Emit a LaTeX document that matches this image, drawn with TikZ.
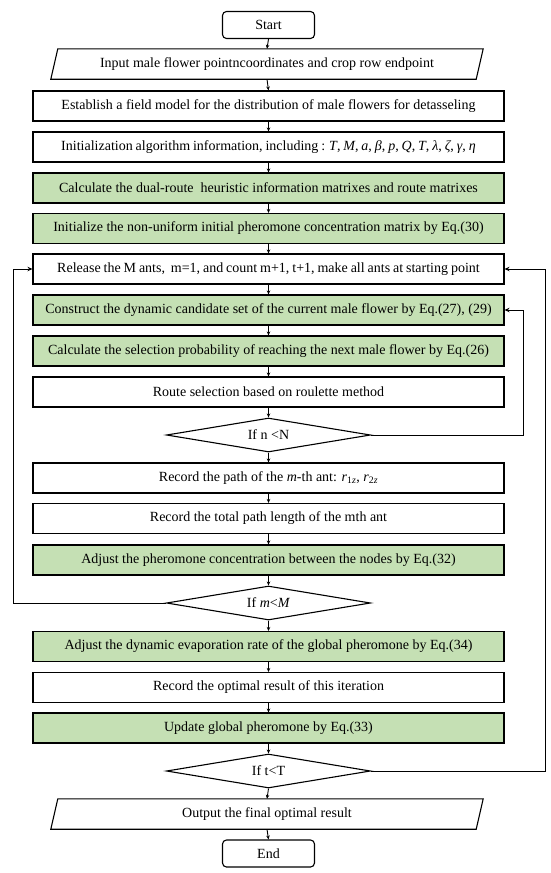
\documentclass[tikz,border=0pt]{standalone}
\usepackage{fontspec}
\setmainfont{Liberation Serif}
\usetikzlibrary{shapes.geometric,arrows.meta}
\definecolor{boxgreen}{RGB}{197,224,180}
\begin{document}
\begin{tikzpicture}[x=1pt,y=-1pt,
  every node/.style={font=\fontsize{14}{16}\selectfont},
  proc/.style={draw,line width=1.1pt,minimum width=471pt,minimum height=30pt,inner sep=0pt,anchor=center},
  gproc/.style={proc,fill=boxgreen},
  term/.style={draw,line width=1.1pt,rounded corners=4pt,minimum width=92pt,minimum height=27pt,inner sep=0pt},
  dec/.style={draw,line width=1.1pt,diamond,aspect=6,minimum width=204pt,minimum height=34pt,inner sep=0pt},
  io/.style={minimum width=425pt,minimum height=30pt,inner sep=0pt},
  arr/.style={line width=0.9pt,-{Stealth[length=4pt,width=3.5pt]}},
  loop/.style={line width=0.9pt,-{Stealth[length=5pt,width=4.5pt]}}]
\useasboundingbox (0,0) rectangle (550,873);
\node[term] (start) at (268.5,25) {Start};
\node[io] (inp) at (267,64) {Input male flower pointncoordinates and crop row endpoint};
\draw[line width=1.1pt] ([xshift=-3.5pt]inp.south west) -- ([xshift=3.5pt]inp.north west) -- ([xshift=3.5pt]inp.north east) -- ([xshift=-3.5pt]inp.south east) -- cycle;
\node[proc] (b1) at (268.5,106) {Establish a field model for the distribution of male flowers for detasseling};
\node[proc] (b2) at (268.5,147) {\spaceskip=2.9pt Initialization algorithm information, including : \textit{T}, \textit{M}, \textit{a}, \textit{β}, \textit{p}, \textit{Q}, \textit{T}, \textit{λ}, \textit{ζ}, \textit{γ}, \textit{η}};
\node[gproc] (b3) at (268.5,188) {Calculate the dual-route\ \ heuristic information matrixes and route matrixes};
\node[gproc] (b4) at (268.5,228.5) {Initialize the non-uniform initial pheromone concentration matrix by Eq.(30)};
\node[proc] (rel) at (268.5,269) {\spaceskip=2.9pt Release the M ants,\ \ m=1, and count m+1, t+1, make all ants at starting point};
\node[gproc] (con) at (268.5,310) {Construct the dynamic candidate set of the current male flower by Eq.(27), (29)};
\node[gproc] (sel) at (268.5,351) {Calculate the selection probability of reaching the next male flower by Eq.(26)};
\node[proc] (rou) at (268.5,392) {Route selection based on roulette method};
\node[dec] (d1) at (268.5,435) {If n <N};
\node[proc] (rp) at (268.5,478) {Record the path of the \textit{m}-th ant: \textit{r}\textsubscript{1\textit{z}}, \textit{r}\textsubscript{2\textit{z}}};
\node[proc] (rt) at (268.5,518.5) {Record the total path length of the mth ant};
\node[gproc] (adj) at (268.5,560) {Adjust the pheromone concentration between the nodes by Eq.(32)};
\node[dec] (d2) at (268.5,603) {If \textit{m}<\textit{M}};
\node[gproc] (dyn) at (268.5,646.5) {Adjust the dynamic evaporation rate of the global pheromone by Eq.(34)};
\node[proc] (opt) at (268.5,687.5) {Record the optimal result of this iteration};
\node[gproc] (upd) at (268.5,728) {Update global pheromone by Eq.(33)};
\node[dec] (d3) at (268.5,771) {If t<T};
\node[io] (out) at (267,814) {Output the final optimal result};
\draw[line width=1.1pt] ([xshift=-3.5pt]out.south west) -- ([xshift=3.5pt]out.north west) -- ([xshift=3.5pt]out.north east) -- ([xshift=-3.5pt]out.south east) -- cycle;
\node[term] (end) at (268.5,853.5) {End};
\coordinate (lx) at (13,0);
\coordinate (rx1) at (523.5,0);
\coordinate (rx2) at (545,0);
\foreach \a/\b in {start/inp,inp/b1,b1/b2,b2/b3,b3/b4,b4/rel,rel/con,con/sel,sel/rou,rou/d1,d1/rp,rp/rt,rt/adj,adj/d2,d2/dyn,dyn/opt,opt/upd,upd/d3,d3/out,out/end}
  \draw[arr] (\a.south) -- (\b.north);
\draw[loop] (d2.west) -- (d2.west -| lx) |- (rel.west);
\draw[loop] (d1.east) -- (d1.east -| rx1) |- (con.east);
\draw[loop] (d3.east) -- (d3.east -| rx2) |- (rel.east);
\end{tikzpicture}
\end{document}
